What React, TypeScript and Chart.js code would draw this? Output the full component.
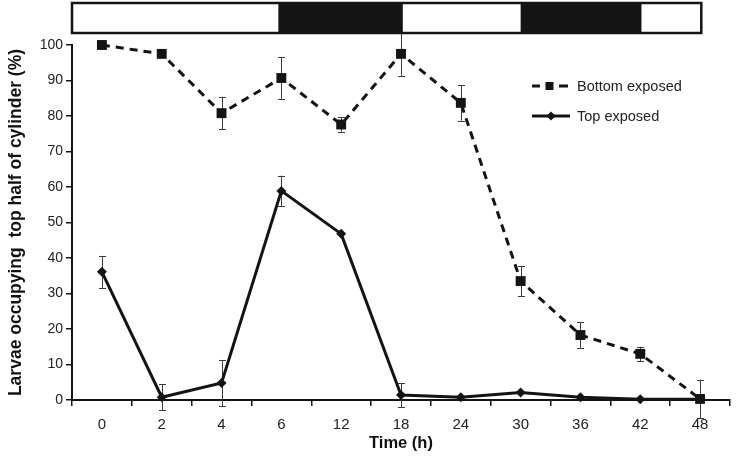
import React, { useEffect, useRef } from "react";
import { Chart, registerables } from "chart.js";

Chart.register(...registerables);

const categories = ["0", "2", "4", "6", "12", "18", "24", "30", "36", "42", "48"];
const bottomExposed = [100, 97.5, 80.8, 90.7, 77.6, 97.5, 83.7, 33.5, 18.3, 13.0, 0.3];
const bottomExposedErr = [0, 0, 4.6, 5.9, 2.0, 6.2, 5.0, 4.3, 3.6, 2.0, 5.4];
const topExposed = [36.1, 0.8, 4.8, 58.9, 46.8, 1.4, 0.8, 2.1, 0.8, 0.2, 0.2];
const topExposedErr = [4.5, 3.7, 6.5, 4.3, 0, 3.4, 0, 0, 0, 0, 0];
const yTickValues = [0, 10, 20, 30, 40, 50, 60, 70, 80, 90, 100];
// light/dark bar along the time axis, in category-index units
const phaseBounds = [-0.5, 2.95, 5.03, 7.0, 9.02, 10.02];
const phaseDark = [false, true, false, true, false];
const legendLabels = ["Bottom exposed", "Top exposed"];

const FONT = "'Liberation Sans', Arial, Helvetica, sans-serif";
const INK = "#141414";

const errorBarPlugin = {
  id: "errorBars",
  beforeDatasetsDraw(chart: any) {
    const ctx = chart.ctx;
    const y = chart.scales.y;
    ctx.save();
    ctx.strokeStyle = "#3a3a3a";
    ctx.lineWidth = 1;
    chart.data.datasets.forEach((ds: any, di: number) => {
      const meta = chart.getDatasetMeta(di);
      const errs: number[] = ds.errors || [];
      meta.data.forEach((pt: any, i: number) => {
        const e = errs[i];
        if (!e) return;
        const v = ds.data[i];
        const x = Math.round(pt.x) + 0.5;
        const yt = y.getPixelForValue(v + e);
        const yb = y.getPixelForValue(v - e);
        ctx.beginPath();
        ctx.moveTo(x, yt);
        ctx.lineTo(x, yb);
        ctx.moveTo(x - 3.5, Math.round(yt) + 0.5);
        ctx.lineTo(x + 3.5, Math.round(yt) + 0.5);
        ctx.moveTo(x - 3.5, Math.round(yb) + 0.5);
        ctx.lineTo(x + 3.5, Math.round(yb) + 0.5);
        ctx.stroke();
      });
    });
    ctx.restore();
  },
};

const decorPlugin = {
  id: "decor",
  afterDraw(chart: any) {
    const ctx = chart.ctx;
    const xs = chart.scales.x;
    const area = chart.chartArea;
    ctx.save();
    // light/dark bar
    const top = area.top - 42;
    const bottom = area.top - 12;
    const x0 = xs.getPixelForValue(phaseBounds[0]);
    const x1 = xs.getPixelForValue(phaseBounds[phaseBounds.length - 1]);
    ctx.fillStyle = "#ffffff";
    ctx.fillRect(x0, top, x1 - x0, bottom - top);
    for (let i = 0; i < phaseDark.length; i++) {
      if (!phaseDark[i]) continue;
      const a = xs.getPixelForValue(phaseBounds[i]);
      const b = xs.getPixelForValue(phaseBounds[i + 1]);
      ctx.fillStyle = INK;
      ctx.fillRect(a, top, b - a, bottom - top);
    }
    ctx.strokeStyle = INK;
    ctx.lineWidth = 2.5;
    ctx.strokeRect(x0, top, x1 - x0, bottom - top);

    // legend
    const lx = area.right - 198;
    const rows = [area.top + 41, area.top + 71];
    ctx.lineWidth = 3;
    ctx.strokeStyle = INK;
    ctx.fillStyle = INK;
    // bottom exposed sample: dash, square, dash
    let ry = rows[0];
    ctx.beginPath();
    ctx.moveTo(lx, ry);
    ctx.lineTo(lx + 8, ry);
    ctx.moveTo(lx + 27, ry);
    ctx.lineTo(lx + 36, ry);
    ctx.stroke();
    ctx.fillRect(lx + 13.5, ry - 4, 8, 8);
    // top exposed sample: line with diamond
    ry = rows[1];
    ctx.beginPath();
    ctx.moveTo(lx, ry);
    ctx.lineTo(lx + 38, ry);
    ctx.stroke();
    ctx.beginPath();
    ctx.moveTo(lx + 19, ry - 4.5);
    ctx.lineTo(lx + 23.5, ry);
    ctx.lineTo(lx + 19, ry + 4.5);
    ctx.lineTo(lx + 14.5, ry);
    ctx.closePath();
    ctx.fill();
    ctx.font = `14.5px ${FONT}`;
    ctx.textBaseline = "middle";
    ctx.textAlign = "left";
    ctx.fillStyle = "#222";
    ctx.fillText(legendLabels[0], lx + 45, rows[0] + 1);
    ctx.fillText(legendLabels[1], lx + 45, rows[1] + 1);
    ctx.restore();
  },
};

export default function App() {
  const ref = useRef<HTMLCanvasElement | null>(null);
  useEffect(() => {
    if (!ref.current) return;
    const chart = new Chart(ref.current, {
      type: "line",
      data: {
        labels: categories,
        datasets: [
          {
            label: legendLabels[0],
            data: bottomExposed,
            errors: bottomExposedErr,
            borderColor: INK,
            backgroundColor: INK,
            borderWidth: 3,
            borderDash: [8, 6],
            pointStyle: "rect",
            pointRadius: 7,
            pointBorderWidth: 0,
            pointBackgroundColor: INK,
            tension: 0,
            clip: false,
          } as any,
          {
            label: legendLabels[1],
            data: topExposed,
            errors: topExposedErr,
            borderColor: INK,
            backgroundColor: INK,
            borderWidth: 3,
            pointStyle: "rectRot",
            pointRadius: 5,
            pointBorderWidth: 0,
            pointBackgroundColor: INK,
            tension: 0,
            clip: false,
          } as any,
        ],
      },
      options: {
        animation: false,
        responsive: true,
        maintainAspectRatio: false,
        layout: { padding: { top: 45, right: 7, left: 0, bottom: 0 } },
        plugins: {
          legend: { display: false },
          tooltip: { enabled: false },
        },
        scales: {
          x: {
            type: "category",
            offset: true,
            grid: {
              offset: true,
              drawOnChartArea: false,
              drawTicks: true,
              tickLength: 6,
              color: INK,
              lineWidth: 1.5,
            },
            border: { display: true, color: INK, width: 2 },
            ticks: {
              font: { family: FONT, size: 15 },
              color: "#222",
              padding: 10,
              maxRotation: 0,
              autoSkip: false,
            },
            title: {
              display: true,
              text: "Time (h)",
              font: { family: FONT, size: 16.5, weight: "bold" },
              color: "#111",
              padding: { top: 0, bottom: 16 },
            },
            afterFit(scale: any) {
              scale.height = 69;
            },
          },
          y: {
            min: 0,
            max: 100,
            afterBuildTicks(scale: any) {
              scale.ticks = yTickValues.map((v) => ({ value: v }));
            },
            grid: {
              drawOnChartArea: false,
              drawTicks: true,
              tickLength: 6,
              color: INK,
              lineWidth: 1.5,
            },
            border: { display: true, color: INK, width: 2 },
            ticks: {
              font: { family: FONT, size: 14 },
              color: "#222",
              padding: 3,
            },
            title: {
              display: true,
              text: "Larvae occupying  top half of cylinder (%)",
              font: { family: FONT, size: 17.5, weight: "bold" },
              color: "#111",
              padding: { top: 6, bottom: 0 },
            },
            afterFit(scale: any) {
              scale.width = 72;
            },
          },
        },
      },
      plugins: [errorBarPlugin, decorPlugin],
    } as any);
    return () => chart.destroy();
  }, []);
  return (
    <div style={{ position: "fixed", left: 0, top: 0, width: 737, height: 469, background: "#fff" }}>
      <canvas ref={ref} />
    </div>
  );
}
